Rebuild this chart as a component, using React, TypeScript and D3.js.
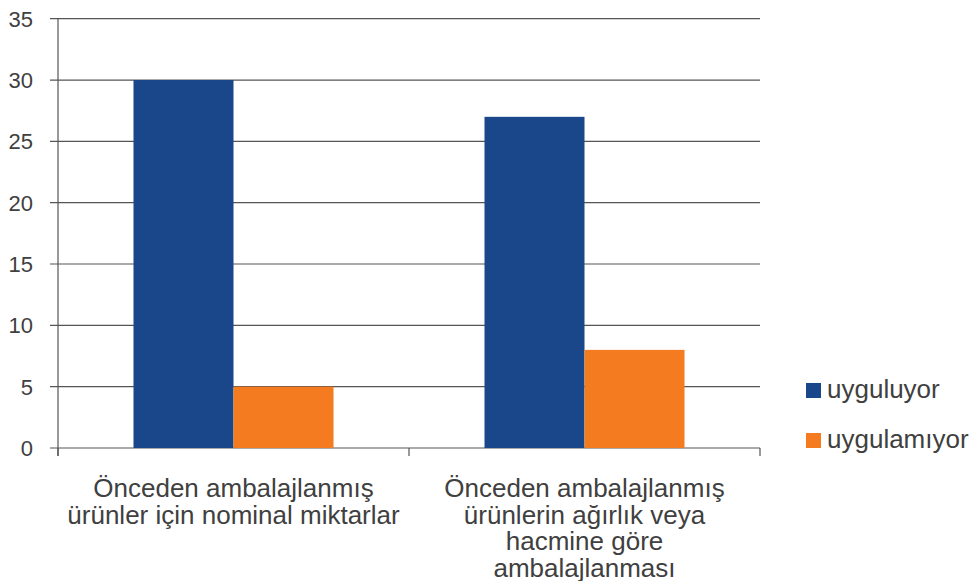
import React from "react";
import * as d3 from "d3";

const categories = [
  ["Önceden ambalajlanmış", "ürünler için nominal miktarlar"],
  ["Önceden ambalajlanmış", "ürünlerin ağırlık veya", "hacmine göre", "ambalajlanması"],
];
const seriesNames = ["uyguluyor", "uygulamıyor"];
const uyguluyor = [30, 27];
const uygulamiyor = [5, 8];
const yTicks = [0, 5, 10, 15, 20, 25, 30, 35];
const colors = ["#1a4789", "#f47b20"];

export default function App() {
  const W = 972, H = 581;
  const left = 58, right = 760, top = 18.7, bottom = 448;
  const y = d3.scaleLinear().domain([0, 35]).range([bottom, top]);
  const x0 = d3.scaleBand().domain(["0", "1"]).range([left, right]).paddingInner(0).paddingOuter(0);
  const x1 = d3.scaleBand().domain(["0", "1"]).range([0, x0.bandwidth()]).paddingInner(0).paddingOuter(0.755);
  const series = [uyguluyor, uygulamiyor];
  const font = "'Liberation Sans', Arial, sans-serif";
  const textColor = "#404040";
  return (
    <svg width={W} height={H} style={{ position: "absolute", left: 0, top: 0 }}>
      {yTicks.map((t) => (
        <g key={t}>
          <line x1={left - 8} x2={right} y1={y(t)} y2={y(t)} stroke="#555" strokeWidth={1.2} />
          <text x={33} y={y(t) + 8} textAnchor="end" fontFamily={font} fontSize={22} fill={textColor}>{t}</text>
        </g>
      ))}
      {categories.map((c, i) =>
        series.map((s, j) => (
          <rect key={`${i}-${j}`} x={x0(String(i))! + x1(String(j))!} width={x1.bandwidth()} y={y(s[i])} height={bottom - y(s[i])} fill={colors[j]} />
        ))
      )}
      <line x1={left} x2={left} y1={top} y2={bottom + 8} stroke="#555" strokeWidth={1.2} />
      {[0, 1, 2].map((k) => {
        const xx = left + k * x0.bandwidth();
        return <line key={k} x1={xx} x2={xx} y1={bottom} y2={bottom + 8} stroke="#555" strokeWidth={1.2} />;
      })}
      {categories.map((lines, i) => (
        <text key={i} textAnchor="middle" fontFamily={font} fontSize={26} fill={textColor}>
          {lines.map((l, k) => (
            <tspan key={k} x={x0(String(i))! + x0.bandwidth() / 2} y={497 + k * 26.5}>{l}</tspan>
          ))}
        </text>
      ))}
      {seriesNames.map((n, j) => (
        <g key={n}>
          <rect x={806} y={383 + j * 50} width={15} height={15} fill={colors[j]} />
          <text x={827} y={398 + j * 50} fontFamily={font} fontSize={26} fill={textColor}>{n}</text>
        </g>
      ))}
    </svg>
  );
}
